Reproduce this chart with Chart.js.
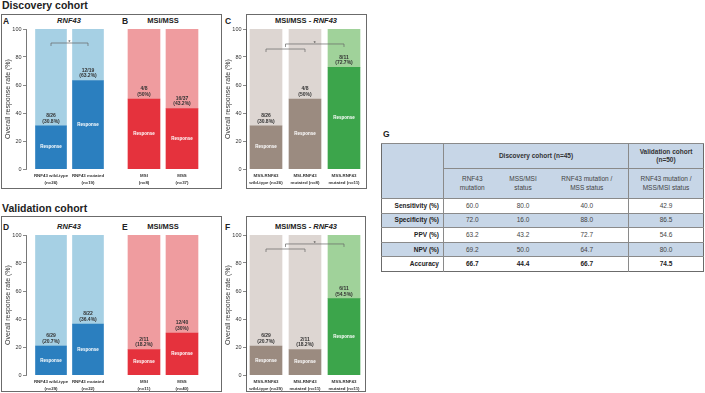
<!DOCTYPE html>
<html>
<head>
<meta charset="utf-8">
<script src="https://cdn.jsdelivr.net/npm/chart.js@4.4.1/dist/chart.umd.min.js"></script>
<style>
  body { margin:0; width:705px; height:393px; overflow:hidden; background:#fff; position:relative;
         font-family:"Liberation Sans", Arial, sans-serif; color:#222; }
  .abs { position:absolute; line-height:1; white-space:nowrap; }
  .head { font-size:10.5px; font-weight:bold; }
  .let { font-size:8.5px; font-weight:bold; }
  .ttl { font-size:7.5px; font-weight:bold; transform:translateX(-50%); }
  .box { position:absolute; border:1px solid #6b6b6b; box-sizing:border-box; }
  canvas { position:absolute; }
  #tbl { position:absolute; left:381px; top:143px; width:322px; border-collapse:collapse; table-layout:fixed;
         font-size:6.5px; color:#444; border:1px solid #6b6b6b; }
  #tbl td { padding:0; text-align:center; border-top:0.8px solid #8a8a8a; line-height:1.25; }
  #tbl .h1 td { height:24px; background:#c7d6e7; font-weight:bold; color:#333; }
  #tbl .h2 td { height:29px; background:#c7d6e7; }
  #tbl .r td { height:13.6px; }
  #tbl .alt td { background:#c7d6e7; }
  #tbl td.lbl { text-align:right; padding-right:4px; font-weight:bold; color:#222; }
  #tbl .vl { border-left:0.8px solid #8a8a8a; }
  #tbl .b td { font-weight:bold; color:#222; }
</style>
</head>
<body>

<div class="abs head" style="left:2px;top:0px">Discovery cohort</div>
<div class="box" style="left:1px;top:14px;width:221px;height:175px"></div>
<div class="box" style="left:246px;top:14px;width:121px;height:175px"></div>
<div class="abs let" style="left:3px;top:17px">A</div>
<div class="abs let" style="left:122px;top:17px">B</div>
<div class="abs let" style="left:225px;top:17px">C</div>
<div class="abs ttl" style="left:69px;top:17px"><i>RNF43</i></div>
<div class="abs ttl" style="left:163px;top:17px">MSI/MSS</div>
<div class="abs ttl" style="left:306px;top:17px">MSI/MSS - <i>RNF43</i></div>

<div class="abs head" style="left:2px;top:203px">Validation cohort</div>
<div class="box" style="left:1px;top:216px;width:221px;height:176px"></div>
<div class="box" style="left:246px;top:216px;width:120px;height:176px"></div>
<div class="abs let" style="left:3px;top:223px">D</div>
<div class="abs let" style="left:122px;top:223px">E</div>
<div class="abs let" style="left:225px;top:223px">F</div>
<div class="abs ttl" style="left:69px;top:223px"><i>RNF43</i></div>
<div class="abs ttl" style="left:163px;top:223px">MSI/MSS</div>
<div class="abs ttl" style="left:306px;top:223px">MSI/MSS - <i>RNF43</i></div>

<div class="abs let" style="left:383px;top:130px">G</div>
<table id="tbl">
  <colgroup><col style="width:62px"><col style="width:57px"><col style="width:45px"><col style="width:83px"><col style="width:75px"></colgroup>
  <tr class="h1"><td rowspan="2"></td><td colspan="3" class="vl">Discovery cohort (n=45)</td><td class="vl">Validation cohort<br>(n=50)</td></tr>
  <tr class="h2"><td class="vl">RNF43<br>mutation</td><td>MSS/MSI<br>status</td><td>RNF43 mutation /<br>MSS status</td><td class="vl">RNF43 mutation /<br>MSS/MSI status</td></tr>
  <tbody id="tbody"></tbody>
</table>

<script>
// discovery cohort
const discRnfLabels = [['RNF43 wild-type', '(n=26)'], ['RNF43 mutated', '(n=19)']];
const discRnfHits = [8, 12];
const discRnfN = [26, 19];
const discRnfRate = [30.8, 63.2];

const discMsiLabels = [['MSI', '(n=8)'], ['MSS', '(n=37)']];
const discMsiHits = [4, 16];
const discMsiN = [8, 37];
const discMsiRate = [50, 43.2];

const discComboLabels = [['MSS-RNF43', 'wild-type (n=26)'], ['MSI-RNF43', 'mutated (n=8)'], ['MSS-RNF43', 'mutated (n=11)']];
const discComboHits = [8, 4, 8];
const discComboN = [26, 8, 11];
const discComboRate = [30.8, 50, 72.7];

// validation cohort
const valRnfLabels = [['RNF43 wild-type', '(n=29)'], ['RNF43 mutated', '(n=22)']];
const valRnfHits = [6, 8];
const valRnfN = [29, 22];
const valRnfRate = [20.7, 36.4];

const valMsiLabels = [['MSI', '(n=11)'], ['MSS', '(n=40)']];
const valMsiHits = [2, 12];
const valMsiN = [11, 40];
const valMsiRate = [18.2, 30.0];

const valComboLabels = [['MSS-RNF43', 'wild-type (n=29)'], ['MSI-RNF43', 'mutated (n=11)'], ['MSS-RNF43', 'mutated (n=11)']];
const valComboHits = [6, 2, 6];
const valComboN = [29, 11, 11];
const valComboRate = [20.7, 18.2, 54.5];

// table G
const tblRows = ['Sensitivity (%)', 'Specificity (%)', 'PPV (%)', 'NPV (%)', 'Accuracy'];
const tblRnf = ['60.0', '72.0', '63.2', '69.2', '66.7'];
const tblMsi = ['80.0', '16.0', '43.2', '50.0', '44.4'];
const tblCombo = ['40.0', '88.0', '72.7', '64.7', '66.7'];
const tblValid = ['42.9', '86.5', '54.6', '80.0', '74.5'];

const FONT = '"Liberation Sans", Arial, sans-serif';

const barText = {
    id: 'barText',
    afterDatasetsDraw(chart, args, o) {
        const ctx = chart.ctx;
        ctx.save();
        ctx.textAlign = 'center';
        ctx.textBaseline = 'middle';
        chart.getDatasetMeta(0).data.forEach((b, i) => {
            ctx.fillStyle = '#fff';
            ctx.font = 'bold 4.5px ' + FONT;
            ctx.fillText('Response', b.x, (b.y + b.base) / 2);
            const r = o.rate[i];
            ctx.fillStyle = '#333';
            ctx.font = 'bold 5px ' + FONT;
            ctx.fillText(o.hits[i] + '/' + o.n[i], b.x, b.y - 10);
            ctx.fillText('(' + (Number.isInteger(r) ? r : r.toFixed(1)) + '%)', b.x, b.y - 4.5);
        });
        ctx.restore();
    }
};

const brackets = {
    id: 'brackets',
    afterDatasetsDraw(chart, args, o) {
        const { ctx, scales: { x, y } } = chart;
        ctx.save();
        ctx.strokeStyle = '#666';
        ctx.lineWidth = 0.7;
        ctx.fillStyle = '#444';
        ctx.textAlign = 'center';
        ctx.font = '6px ' + FONT;
        (o.list || []).forEach(b => {
            const x1 = x.getPixelForValue(b.from), x2 = x.getPixelForValue(b.to), yy = y.getPixelForValue(b.at);
            ctx.beginPath();
            ctx.moveTo(x1, yy + 3); ctx.lineTo(x1, yy); ctx.lineTo(x2, yy); ctx.lineTo(x2, yy + 3);
            ctx.stroke();
            if (b.star) ctx.fillText('*', (x1 + x2) / 2, yy + 1);
        });
        ctx.restore();
    }
};

function panel(p) {
    const cv = document.createElement('canvas');
    cv.width = p.w; cv.height = 170;
    cv.style.left = p.left + 'px'; cv.style.top = p.top + 'px';
    document.body.appendChild(cv);
    const idx = p.labels.map((_, i) => i);
    new Chart(cv, {
        type: 'bar',
        data: {
            datasets: [
                { label: 'Response', data: idx.map(i => ({ x: i, y: p.rate[i] })), backgroundColor: p.dark, barThickness: p.bw },
                { label: 'No response', data: idx.map(i => ({ x: i, y: 100 - p.rate[i] })), backgroundColor: p.light, barThickness: p.bw }
            ]
        },
        options: {
            responsive: false,
            animation: false,
            layout: { padding: { top: 9, right: 2, left: p.padL || 0, bottom: 0 } },
            plugins: {
                legend: { display: false },
                tooltip: { enabled: false },
                barText: { hits: p.hits, n: p.n, rate: p.rate },
                brackets: { list: p.brackets }
            },
            scales: {
                x: {
                    type: 'linear', stacked: true, offset: false, min: p.xMin, max: p.xMax,
                    grid: { display: false, drawTicks: false, offset: false },
                    border: { display: false },
                    afterBuildTicks: s => { s.ticks = idx.map(v => ({ value: v })); },
                    afterFit: s => { s.height = 21; },
                    ticks: {
                        autoSkip: false, maxRotation: 0, padding: 3.6, color: '#333',
                        font: { family: FONT, size: 4.4, weight: 'bold', lineHeight: 1.5 },
                        callback: v => p.labels[v]
                    }
                },
                y: {
                    stacked: true, min: 0, max: 100, display: !!p.axisW,
                    afterFit: s => { s.width = p.axisW; },
                    grid: { drawOnChartArea: false, drawTicks: true, tickLength: 3, color: '#555', lineWidth: 0.7 },
                    border: { display: true, color: '#555', width: 0.8 },
                    ticks: { stepSize: 20, padding: 1.5, color: '#333', font: { family: FONT, size: 5.5 } },
                    title: { display: true, text: 'Overall response rate (%)', color: '#333',
                             font: { family: FONT, size: 7 }, padding: { top: p.titlePad || 0, bottom: 0 } }
                }
            }
        },
        plugins: [barText, brackets]
    });
}

const blueD = '#2b7fbf', blueL = '#a6d0e4';
const redD = '#e5323d', redL = '#ef9c9f';
const greyD = ['#9b8b80', '#9b8b80', '#3ca54b'], greyL = ['#ddd6d2', '#ddd6d2', '#a0d29a'];

[[20, 'disc'], [226, 'val']].forEach(([top, k]) => {
    const rnf = k === 'disc'
        ? [discRnfLabels, discRnfHits, discRnfN, discRnfRate]
        : [valRnfLabels, valRnfHits, valRnfN, valRnfRate];
    const msi = k === 'disc'
        ? [discMsiLabels, discMsiHits, discMsiN, discMsiRate]
        : [valMsiLabels, valMsiHits, valMsiN, valMsiRate];
    const combo = k === 'disc'
        ? [discComboLabels, discComboHits, discComboN, discComboRate]
        : [valComboLabels, valComboHits, valComboN, valComboRate];

    panel({ left: 0, top, w: 112, labels: rnf[0], hits: rnf[1], n: rnf[2], rate: rnf[3],
            dark: blueD, light: blueL, bw: 31, xMin: -0.676, xMax: 1.595, axisW: 26, titlePad: 4,
            brackets: k === 'disc' ? [{ from: 0, to: 1, at: 90, star: true }] : [] });
    panel({ left: 112, top, w: 110, labels: msi[0], hits: msi[1], n: msi[2], rate: msi[3],
            dark: redD, light: redL, bw: 32, xMin: -0.526, xMax: 2.0, axisW: 0, padL: 12 });
    panel({ left: 222, top, w: 147, labels: combo[0], hits: combo[1], n: combo[2], rate: combo[3],
            dark: greyD, light: greyL, bw: 32, xMin: -0.513, xMax: 2.59, axisW: 24, titlePad: 1.8,
            brackets: k === 'disc'
                ? [{ from: 0, to: 1, at: 85.7 }, { from: 0.5, to: 2, at: 89.3, star: true }]
                : [{ from: 0, to: 1, at: 90 }, { from: 0.5, to: 2, at: 93.6, star: true }] });
});

const tb = document.getElementById('tbody');
tblRows.forEach((name, i) => {
    const cls = ['r'];
    if (i % 2 === 1) cls.push('alt');
    if (name === 'Accuracy') cls.push('b');
    tb.innerHTML += `<tr class="${cls.join(' ')}"><td class="lbl">${name}</td><td class="vl">${tblRnf[i]}</td><td>${tblMsi[i]}</td><td>${tblCombo[i]}</td><td class="vl">${tblValid[i]}</td></tr>`;
});
</script>
</body>
</html>
